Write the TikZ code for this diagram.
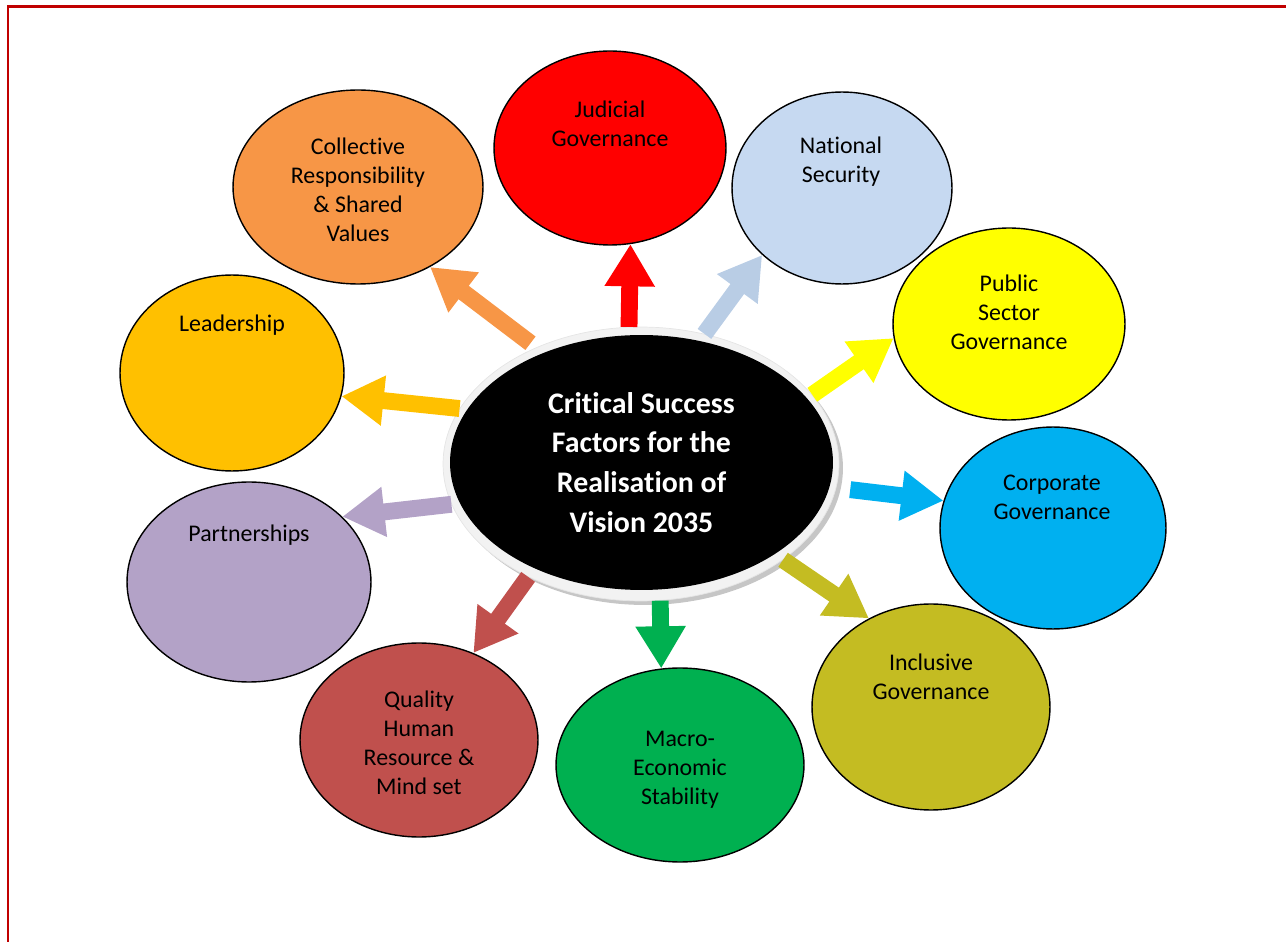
\documentclass[tikz,border=0pt]{standalone}
\usepackage{fontspec}
\setmainfont[Ligatures=NoCommon]{Carlito}
\usetikzlibrary{arrows.meta, shapes.geometric}

\definecolor{frame}{HTML}{C00000}
\definecolor{judicial}{HTML}{FF0000}
\definecolor{security}{HTML}{C6D9F1}
\definecolor{securityarrow}{HTML}{B9CDE5}
\definecolor{collective}{HTML}{F79646}
\definecolor{public}{HTML}{FFFF00}
\definecolor{leader}{HTML}{FFC000}
\definecolor{corporate}{HTML}{00B0F0}
\definecolor{partner}{HTML}{B3A2C7}
\definecolor{inclusive}{HTML}{C4BC22}
\definecolor{quality}{HTML}{C0504D}
\definecolor{macro}{HTML}{00B050}

\begin{document}
\begin{tikzpicture}[
    x=0.02cm, y=-0.02cm,
    bubble/.style={ellipse, draw, line width=0.8pt, inner sep=0pt},
    caption/.style={align=center, font=\fontsize{13.6}{16.5}\selectfont},
    factor/.style={line width=9.6pt, -{Triangle[width=27pt, length=24pt]}}
]
\useasboundingbox (0,0) rectangle (1286,942);
\draw[frame, line width=1.7pt] (1286,6.5) -- (8,6.5) -- (8,942);

\node[bubble, fill=judicial, minimum width=4.64cm, minimum height=3.88cm] (jud) at (610,148) {};
\node[bubble, fill=security, minimum width=4.40cm, minimum height=3.84cm] (sec) at (842,188) {};
\node[bubble, fill=collective, minimum width=5.00cm, minimum height=3.88cm] (col) at (358,187) {};
\node[bubble, fill=public, minimum width=4.64cm, minimum height=3.84cm] (pub) at (1009,324) {};
\node[bubble, fill=leader, minimum width=4.48cm, minimum height=3.92cm] (lead) at (232,373) {};
\node[bubble, fill=corporate, minimum width=4.52cm, minimum height=4.04cm] (corp) at (1053,528) {};
\node[bubble, fill=partner, minimum width=4.88cm, minimum height=4.00cm] (part) at (249,582) {};
\node[bubble, fill=inclusive, minimum width=4.76cm, minimum height=4.12cm] (incl) at (931,707) {};
\node[bubble, fill=quality, minimum width=4.76cm, minimum height=3.88cm] (qual) at (419,740) {};
\node[bubble, fill=macro, minimum width=4.96cm, minimum height=3.88cm] (mac) at (680,765) {};

\node[caption] (jud-t) at (610,123.5) {Judicial\\Governance};
\node[caption] (sec-t) at (841,162) {National\\Security};
\node[caption] (col-t) at (358,189.5) {Collective\\Responsibility\\\& Shared\\Values};
\node[caption] (pub-t) at (1009,312) {Public\\Sector\\Governance};
\node[caption] (lead-t) at (232,325) {Leadership};
\node[caption] (corp-t) at (1052,497.5) {Corporate\\Governance};
\node[caption] (part-t) at (249,535) {Partnerships};
\node[caption] (incl-t) at (931,676.5) {Inclusive\\Governance};
\node[caption] (qual-t) at (419,742.5) {Quality\\Human\\Resource \&\\Mind set};
\node[caption] (mac-t) at (680,769.5) {Macro-\\Economic\\Stability};

% centre
\fill[gray!45] (645,468) ellipse [x radius=3.96cm, y radius=2.74cm];
\node[ellipse, fill=gray!10, draw=gray!20, minimum width=7.92cm, minimum height=5.48cm, inner sep=0pt] (hub) at (641,464) {};
\node[ellipse, fill=black, minimum width=7.66cm, minimum height=5.10cm, inner sep=0pt,
      align=center, text=white, font=\bfseries\fontsize{17}{22.7}\selectfont] (core) at (641.5,462.5)
      {Critical Success\\Factors for the\\Realisation of\\Vision 2035};

\draw[factor, judicial] (hub.95) -- (jud.-78.8);
\draw[factor, securityarrow] (hub.64) -- (sec.220.6);
\draw[factor, collective, shorten <=4pt] (hub.132.1) -- (col.-48.4);
\draw[factor, public] (hub.22.1) -- (pub.187.9);
\draw[factor, leader] (hub.163.6) -- (lead.-12.9);
\draw[factor, corporate, shorten <=8pt] (hub.-7.6) -- (corp.166.1);
\draw[factor, partner] (hub.192.8) -- (part.35.7);
\draw[factor, inclusive] (hub.-34.4) -- (incl.125.3);
\draw[factor, quality] (hub.225) -- (qual.58.9);
\draw[factor, macro] (hub.-82.3) -- (mac.101.8);

\end{tikzpicture}
\end{document}
